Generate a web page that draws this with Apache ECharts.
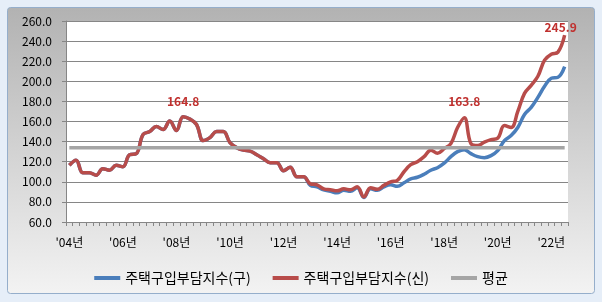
<!DOCTYPE html>
<html>
<head>
<meta charset="utf-8">
<script src="https://cdn.jsdelivr.net/npm/echarts@6/dist/echarts.min.js"></script>
<style>html,body{margin:0;padding:0;background:#e6eef8;}#c{width:602px;height:302px;}</style>
</head>
<body>
<div id="c"></div>
<script>
// Quarterly data, 2004 Q1 .. 2022 Q3
const startYear = 2004;
const quarterCount = 75;
const tickLabels = ["'04년","'06년","'08년","'10년","'12년","'14년","'16년","'18년","'20년","'22년"];
const seriesNames = ['주택구입부담지수(구)', '주택구입부담지수(신)', '평균'];

const oldIndex = [
  116.5,121.5,109,109, 106.5,113,111.5,116.5, 115,127,128,147, 150,155,152,160.5,
  151,164.8,162.5,157, 141,144,150,150, 139,134,131.5,130.5, 127,123,119,119,
  111,114.5,105,105, 96.5,95,92,90.5, 89,91.5,90.5,94, 84.5,93,91.5,95,
  97,95.5,99,103, 104.5,107.5,111.5,114, 118.5,125,130,132, 128,125,124,126,
  131,141,146,154, 167,174,184,195, 203,204,214.6
];
const newIndex = [
  116.5,121.5,109,109, 106.5,113,111.5,116.5, 115,127,128,147, 150,155,152,160.5,
  151,164.8,162.5,157, 141,144,150,150, 139,134,131.5,130.5, 127,123,119,119,
  111,114.5,105,105, 98,97,93,92, 91,93,92,95, 85,94,92.5,96.5,
  100,101.5,110,117, 120,125,131.5,128.5, 133,138,154,163.8, 138,136,139.5,142,
  143.5,156,154,170, 188,196,205,221, 227,229,245.9
];
const averageValue = 134;

const categories = [];
for (let i = 0; i < quarterCount; i++) {
  categories.push((startYear + Math.floor(i / 4)) + '.' + (i % 4 + 1) + 'Q');
}
const labeled = { 17: [0, -9], 59: [0, -10], 74: [-4, -2] };
const newData = newIndex.map((v, i) => labeled[i] ? {
  value: v,
  label: { show: true, position: 'top', distance: 0, offset: labeled[i],
    color: '#c0302e', fontWeight: 'bold', fontSize: 12,
    fontFamily: 'Noto Sans CJK KR', formatter: (p) => Number(p.value).toFixed(1) }
} : v);
const avgData = categories.map(() => averageValue);

const chart = echarts.init(document.getElementById('c'));
const font = 'Noto Sans CJK KR';
chart.setOption({
  backgroundColor: '#e6eef8',
  animation: false,
  graphic: { elements: [{
    type: 'rect', z: -100, silent: true,
    shape: { x: 7.5, y: 7.5, width: 587, height: 286, r: 3 },
    style: {
      fill: new echarts.graphic.LinearGradient(0, 0, 0, 1, [
        { offset: 0, color: '#b2b2b2' }, { offset: 1, color: '#f3f3f3' }]),
      stroke: '#95aecb', lineWidth: 1
    }
  }]},
  grid: { left: 66, right: 34, top: 21, bottom: 80, show: true, backgroundColor: '#ffffff', borderWidth: 0 },
  legend: {
    data: seriesNames, left: 'center', top: 266,
    icon: 'rect', itemWidth: 26, itemHeight: 4, itemGap: 22,
    textStyle: { fontSize: 14, color: '#000', fontFamily: font }
  },
  xAxis: {
    type: 'category', data: categories, boundaryGap: true,
    axisLine: { lineStyle: { color: '#868686', width: 1 } },
    axisTick: { show: true, interval: 0, length: 4, inside: false, lineStyle: { color: '#868686' } },
    axisLabel: {
      interval: 7, margin: 14, fontSize: 12, color: '#000', fontFamily: font,
      formatter: (v, idx) => idx % 8 === 0 ? tickLabels[idx / 8] : ''
    },
    splitLine: { show: false }
  },
  yAxis: {
    type: 'value', min: 60, max: 260, interval: 20,
    axisLine: { show: true, lineStyle: { color: '#868686' } },
    axisTick: { show: true, length: 4, lineStyle: { color: '#868686' } },
    axisLabel: { margin: 14, fontSize: 12, color: '#000', fontFamily: font, formatter: (v) => v.toFixed(1) },
    splitLine: { show: true, lineStyle: { color: '#868686', width: 1 } }
  },
  series: [
    { name: seriesNames[0], type: 'line', data: oldIndex, smooth: 0.4, symbol: 'none',
      lineStyle: { color: '#4a7ebb', width: 3.5 }, itemStyle: { color: '#4a7ebb' } },
    { name: seriesNames[1], type: 'line', data: newData, smooth: 0.4,
      symbol: 'circle', symbolSize: 0.01, showSymbol: true, showAllSymbol: true,
      lineStyle: { color: '#b84c4a', width: 3.5 }, itemStyle: { color: '#b84c4a' } },
    { name: seriesNames[2], type: 'line', data: avgData, symbol: 'none',
      lineStyle: { color: '#a5a5a5', width: 3.5 }, itemStyle: { color: '#a5a5a5' } }
  ]
});
</script>
</body>
</html>
